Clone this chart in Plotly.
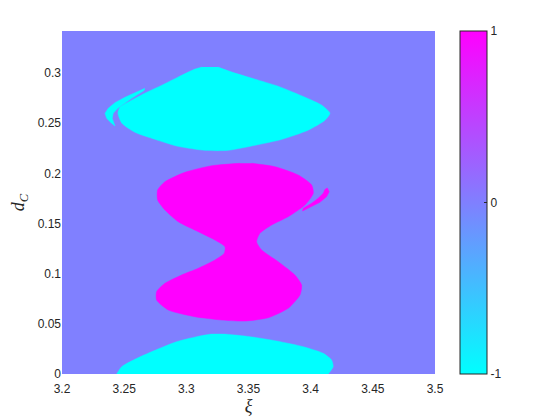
import plotly.graph_objects as go

# region boundaries (xi, d_C)
top_blob_x = [3.3126, 3.3070, 3.2933, 3.2804, 3.2667, 3.2531, 3.2466, 3.2450, 3.2482, 3.2587,
              3.2748, 3.2933, 3.3150, 3.3335, 3.3552, 3.3769, 3.3978, 3.4115, 3.4155, 3.4090,
              3.3954, 3.3737, 3.3552, 3.3391, 3.3254]
top_blob_y = [0.306, 0.304, 0.296, 0.288, 0.280, 0.271, 0.266, 0.260, 0.250, 0.241,
              0.234, 0.227, 0.223, 0.223, 0.228, 0.234, 0.243, 0.253, 0.260, 0.268,
              0.276, 0.287, 0.294, 0.300, 0.306]

crescent_x = [3.2667, 3.2587, 3.2507, 3.2426, 3.2372, 3.2346, 3.2359, 3.2394, 3.2426,
              3.2404, 3.2412, 3.2448, 3.2493, 3.2560, 3.2662]
crescent_y = [0.2848, 0.2805, 0.2759, 0.2705, 0.2649, 0.2599, 0.2549, 0.2506, 0.2473,
              0.2549, 0.2599, 0.2649, 0.2692, 0.2749, 0.2828]

hourglass_x = [3.3431, 3.3204, 3.2989, 3.2828, 3.2769, 3.2769, 3.2828, 3.2935, 3.3096, 3.3230,
               3.3311, 3.3305, 3.3230, 3.3096, 3.2962, 3.2828, 3.2761, 3.2761, 3.2855, 3.3069,
               3.3284, 3.3471, 3.3659, 3.3819, 3.3914, 3.3927, 3.3873, 3.3739, 3.3606, 3.3565,
               3.3592, 3.3686, 3.3819, 3.3954, 3.4021, 3.4008, 3.3900, 3.3713, 3.3526]
hourglass_y = [0.2101, 0.2077, 0.2011, 0.1917, 0.1834, 0.1735, 0.1635, 0.1518, 0.1419, 0.1336,
               0.1269, 0.1203, 0.1137, 0.1054, 0.0987, 0.0904, 0.0821, 0.0738, 0.0638, 0.0571,
               0.0538, 0.0528, 0.0561, 0.0655, 0.0788, 0.0887, 0.0987, 0.1120, 0.1236, 0.1319,
               0.1403, 0.1486, 0.1568, 0.1685, 0.1802, 0.1884, 0.1984, 0.2067, 0.2101]

sliver_x = [3.4133, 3.4149, 3.4128, 3.4074, 3.3994, 3.3935, 3.3940, 3.4008, 3.4061, 3.4101, 3.4117]
sliver_y = [0.1857, 0.1818, 0.1768, 0.1712, 0.1662, 0.1625, 0.1652, 0.1702, 0.1752, 0.1802, 0.1844]

bottom_blob_x = [3.2440, 3.2480, 3.2587, 3.2734, 3.2922, 3.3083, 3.3190, 3.3324, 3.3512,
                 3.3726, 3.3940, 3.4101, 3.4168, 3.4181, 3.4141]
bottom_blob_y = [0.0, 0.0073, 0.0147, 0.0229, 0.0322, 0.0372, 0.0396, 0.0396, 0.0372,
                 0.0329, 0.0272, 0.0206, 0.0140, 0.0073, 0.0]

x_edges = [3.2, 3.5]
y_edges = [0.0, 0.342]
x_ticks = [3.2, 3.25, 3.3, 3.35, 3.4, 3.45, 3.5]
y_ticks = [0, 0.05, 0.1, 0.15, 0.2, 0.25, 0.3]
cbar_ticks = [-1, 0, 1]

COOL = [[0, "#00FFFF"], [1, "#FF00FF"]]
CYAN, MAGENTA = "#00FFFF", "#FF00FF"
TXT = "#262626"
SERIF = "Liberation Serif, Times New Roman, serif"

fig = go.Figure()

# background value 0 and the colour bar
fig.add_trace(go.Heatmap(
    z=[[0]], x=x_edges, y=y_edges,
    zmin=-1, zmax=1, colorscale=COOL, hoverinfo="skip",
    colorbar=dict(
        x=1.067, xanchor="left", y=0.5, yanchor="middle",
        len=1.0, lenmode="fraction", thickness=27, thicknessmode="pixels",
        tickvals=cbar_ticks, ticktext=[str(v) for v in cbar_ticks],
        ticks="inside", ticklen=3, tickcolor=TXT,
        tickfont=dict(size=12, color=TXT), outlinecolor=TXT, outlinewidth=1,
        xpad=0, ypad=0,
    ),
))

regions = [
    (top_blob_x, top_blob_y, CYAN, "spline"),
    (crescent_x, crescent_y, CYAN, "linear"),
    (hourglass_x, hourglass_y, MAGENTA, "spline"),
    (sliver_x, sliver_y, MAGENTA, "linear"),
    (bottom_blob_x, bottom_blob_y, CYAN, "spline"),
]
for xs, ys, col, shape in regions:
    fig.add_trace(go.Scatter(
        x=xs, y=ys, mode="lines", fill="toself", fillcolor=col,
        line=dict(color=col, width=0.5, shape=shape, smoothing=0.6),
        hoverinfo="skip", showlegend=False,
    ))

# page body adds 8px, so the figure is 8px smaller and the margins shifted
fig.update_layout(
    width=552, height=412,
    margin=dict(l=54, r=125, t=23, b=46),
    paper_bgcolor="white", plot_bgcolor="#8080FF",
    font=dict(family="Liberation Sans, Arial, sans-serif", size=12, color=TXT),
    showlegend=False,
)
# invisible outside ticks push the labels down like MATLAB's
fig.update_xaxes(
    range=x_edges, tickvals=x_ticks, ticktext=[f"{v:g}" for v in x_ticks],
    showgrid=False, zeroline=False, showline=False, automargin=False,
    ticks="outside", ticklen=4, tickcolor="rgba(0,0,0,0)",
    title=dict(text="<i>ξ</i>", font=dict(family=SERIF, size=18, color=TXT), standoff=0),
)
fig.update_yaxes(
    range=y_edges, tickvals=y_ticks, ticktext=[f"{v:g}" for v in y_ticks],
    showgrid=False, zeroline=False, showline=False, ticks="", automargin=False,
    title=dict(text="<i>d</i><sub><i>C</i></sub>", font=dict(family=SERIF, size=18, color=TXT), standoff=8),
)

fig.write_html("out.html")
